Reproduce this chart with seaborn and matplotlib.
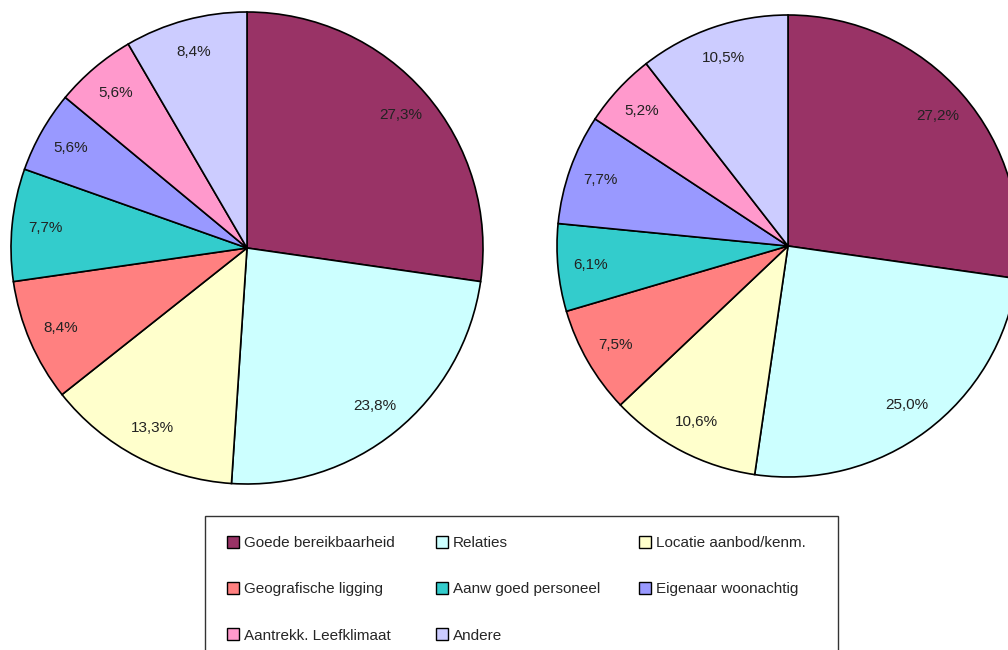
import matplotlib
matplotlib.use("Agg")
import matplotlib.pyplot as plt
import seaborn as sns
from matplotlib.patches import Patch, Rectangle

categories = [
    "Goede bereikbaarheid", "Relaties", "Locatie aanbod/kenm.",
    "Geografische ligging", "Aanw goed personeel", "Eigenaar woonachtig",
    "Aantrekk. Leefklimaat", "Andere",
]
values_left = [27.3, 23.8, 13.3, 8.4, 7.7, 5.6, 5.6, 8.4]
values_right = [27.2, 25.0, 10.6, 7.5, 6.1, 7.7, 5.2, 10.5]
colors = sns.color_palette(["#993366", "#CCFFFF", "#FFFFCC", "#FF8080",
                            "#33CCCC", "#9999FF", "#FF99CC", "#CCCCFF"])

sns.set_theme(style="white")
plt.rcParams["font.family"] = ["Liberation Sans", "DejaVu Sans"]

W, H = 1008, 650
fig = plt.figure(figsize=(W / 100, H / 100), dpi=100)
ax = fig.add_axes([0, 0, 1, 1])


def fmt(v):
    return f"{v:.1f}".replace(".", ",") + "%"


def draw_pie(vals, center, radius):
    wedges, texts = ax.pie(
        vals, colors=colors, labels=[fmt(v) for v in vals],
        startangle=90, counterclock=False, center=center, radius=radius,
        labeldistance=0.86, frame=True,
        wedgeprops=dict(edgecolor="black", linewidth=1.2),
        textprops=dict(fontsize=11, color="#222222"),
    )
    for t in texts:
        t.set_ha("center")
        t.set_va("center")


draw_pie(values_left, (247, H - 248), 236)
draw_pie(values_right, (788, H - 246), 231)

ax.set_xlim(0, W)
ax.set_ylim(0, H)
ax.set_aspect("equal")
ax.axis("off")

# legend box (runs past the bottom edge)
box_bottom = -0.02
fig.add_artist(Rectangle((205 / W, box_bottom), (838 - 205) / W,
                         (H - 516) / H - box_bottom,
                         transform=fig.transFigure, facecolor="white",
                         edgecolor="#333333", linewidth=1.0, clip_on=False,
                         zorder=1))

# legend entries laid out row by row in three fixed-width columns
col_x = [227, 436, 639]
ncol = 3
for c in range(ncol):
    idx = list(range(c, len(categories), ncol))
    handles = [Patch(facecolor=colors[i], edgecolor="black", linewidth=1.0) for i in idx]
    leg = fig.legend(
        handles, [categories[i] for i in idx], loc="upper left",
        bbox_to_anchor=(col_x[c] / W, 1 - 536 / H), bbox_transform=fig.transFigure,
        fontsize=11, frameon=False,
        handlelength=0.8, handleheight=0.8, handletextpad=0.3,
        labelspacing=2.1, borderpad=0, borderaxespad=0,
    )
    leg.set_zorder(2)

fig.savefig("out.png", dpi=100)
